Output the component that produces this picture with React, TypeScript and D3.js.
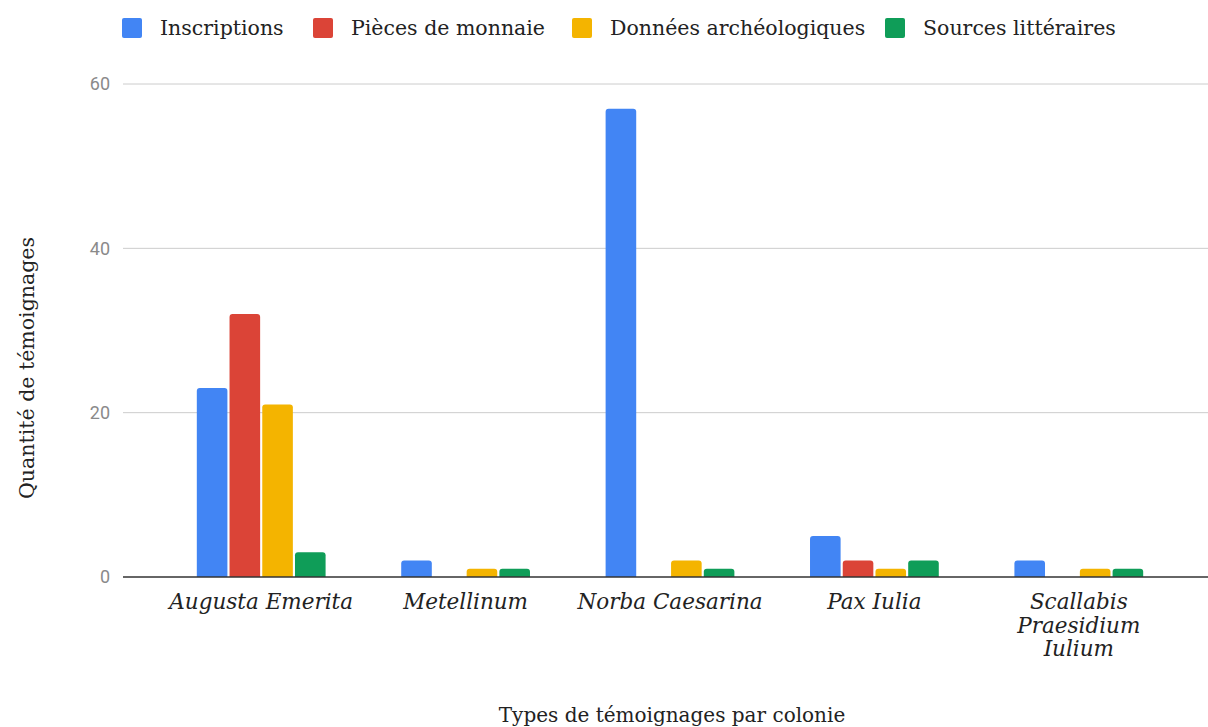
import React, { useEffect, useRef } from "react";
import * as d3 from "d3";

const colonies = [
  ["Augusta Emerita"],
  ["Metellinum"],
  ["Norba Caesarina"],
  ["Pax Iulia"],
  ["Scallabis", "Praesidium", "Iulium"],
];
const seriesNames = [
  "Inscriptions",
  "Pièces de monnaie",
  "Données archéologiques",
  "Sources littéraires",
];
const inscriptions = [23, 2, 57, 5, 2];
const pieces = [32, 0, 0, 2, 0];
const donnees = [21, 1, 2, 1, 1];
const sources = [3, 1, 1, 2, 1];
const yTicks = [0, 20, 40, 60];

const colors = ["#4285f4", "#db4437", "#f4b400", "#0f9d58"];
const serif = "'DejaVu Serif', serif";

function topRounded(x: number, y: number, w: number, h: number, r: number) {
  if (h <= 0) return "";
  const rr = Math.min(r, h, w / 2);
  return `M${x},${y + h}V${y + rr}Q${x},${y} ${x + rr},${y}H${x + w - rr}Q${x + w},${y} ${x + w},${y + rr}V${y + h}Z`;
}

export default function App() {
  const ref = useRef<SVGSVGElement>(null);

  useEffect(() => {
    const width = 1208;
    const height = 727;
    const svg = d3.select(ref.current);
    svg.selectAll("*").remove();

    const gridLeft = 123;
    const gridRight = 1208;
    const series = [inscriptions, pieces, donnees, sources];
    const keys = colonies.map(c => c.join(" "));

    const y = d3.scaleLinear().domain([0, 60]).range([577, 84]);
    const x = d3.scaleBand().domain(keys).range([159, 1181]).paddingInner(0.37).paddingOuter(0.185);
    const xs = d3
      .scaleBand<number>()
      .domain(d3.range(series.length))
      .range([0, x.bandwidth()])
      .paddingInner(0.065);

    // grid
    svg
      .append("g")
      .selectAll("line")
      .data(yTicks.filter(t => t > 0))
      .enter()
      .append("line")
      .attr("x1", gridLeft)
      .attr("x2", gridRight)
      .attr("y1", d => y(d))
      .attr("y2", d => y(d))
      .attr("stroke", "#cccccc")
      .attr("stroke-width", 1);

    // y tick labels
    svg
      .append("g")
      .selectAll("text")
      .data(yTicks)
      .enter()
      .append("text")
      .attr("x", 110)
      .attr("y", d => y(d))
      .attr("dy", "0.35em")
      .attr("text-anchor", "end")
      .attr("font-family", "Roboto, sans-serif")
      .attr("font-size", 18)
      .attr("fill", "#8a8a8a")
      .text(d => d);

    // bars
    series.forEach((vals, si) => {
      svg
        .append("g")
        .selectAll("path")
        .data(vals)
        .enter()
        .append("path")
        .attr("fill", colors[si])
        .attr("d", (v, i) => {
          const bx = (x(keys[i]) as number) + (xs(si) as number);
          return topRounded(bx, y(v), xs.bandwidth(), y(0) - y(v), 3);
        });
    });

    // baseline
    svg
      .append("line")
      .attr("x1", gridLeft)
      .attr("x2", gridRight)
      .attr("y1", y(0))
      .attr("y2", y(0))
      .attr("stroke", "#333333")
      .attr("stroke-width", 1.5);

    // x labels
    const xl = svg
      .append("g")
      .selectAll("text")
      .data(colonies)
      .enter()
      .append("text")
      .attr("x", (d, i) => (x(keys[i]) as number) + x.bandwidth() / 2)
      .attr("y", 609)
      .attr("text-anchor", "middle")
      .attr("font-family", serif)
      .attr("font-style", "italic")
      .attr("font-size", 21.5)
      .attr("fill", "#222222");
    xl.each(function (d) {
      d.forEach((line, li) => {
        d3.select(this)
          .append("tspan")
          .attr("x", d3.select(this).attr("x"))
          .attr("dy", li === 0 ? 0 : 23.5)
          .text(line);
      });
    });

    // axis titles
    svg
      .append("text")
      .attr("x", 672)
      .attr("y", 722)
      .attr("text-anchor", "middle")
      .attr("font-family", serif)
      .attr("font-size", 20)
      .attr("fill", "#222222")
      .text("Types de témoignages par colonie");

    svg
      .append("text")
      .attr("transform", "translate(34, 368) rotate(-90)")
      .attr("text-anchor", "middle")
      .attr("font-family", serif)
      .attr("font-size", 20.5)
      .attr("fill", "#222222")
      .text("Quantité de témoignages");

    // legend
    const legendX = [122, 313, 572, 885];
    const lg = svg
      .append("g")
      .selectAll("g")
      .data(seriesNames)
      .enter()
      .append("g")
      .attr("transform", (d, i) => `translate(${legendX[i]}, 18)`);
    lg.append("rect")
      .attr("width", 20)
      .attr("height", 20)
      .attr("rx", 2)
      .attr("fill", (d, i) => colors[i]);
    lg.append("text")
      .attr("x", 38)
      .attr("y", 10)
      .attr("dy", "0.35em")
      .attr("font-family", serif)
      .attr("font-size", 20.5)
      .attr("fill", "#222222")
      .text(d => d);

    svg.attr("width", width).attr("height", height);
  }, []);

  return (
    <svg
      ref={ref}
      width={1208}
      height={727}
      style={{ position: "absolute", left: 0, top: 0, background: "#fff" }}
    />
  );
}
